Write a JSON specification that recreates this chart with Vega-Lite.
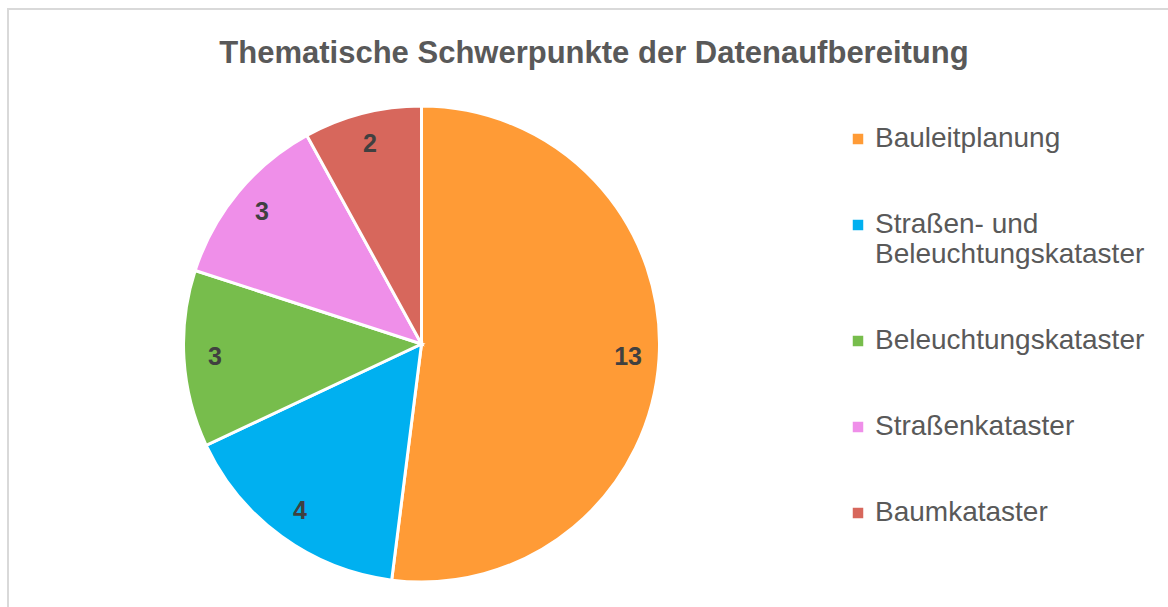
{
  "$schema": "https://vega.github.io/schema/vega-lite/v6.json",
  "width": 1172,
  "height": 612,
  "autosize": "none",
  "padding": {"left": 8, "top": 9, "right": 0, "bottom": 0},
  "background": "white",
  "config": {
    "view": {"stroke": "#d9d9d9", "strokeWidth": 2},
    "font": "Liberation Sans"
  },
  "title": {
    "text": "Thematische Schwerpunkte der Datenaufbereitung",
    "anchor": "middle",
    "font": "Liberation Sans",
    "fontSize": 31,
    "fontWeight": "bold",
    "color": "#595959",
    "offset": -61
  },
  "data": {
    "values": [
      {"thema": "Bauleitplanung", "anzahl": 13, "ord": 1},
      {"thema": "Straßen- und Beleuchtungskataster", "anzahl": 4, "ord": 2},
      {"thema": "Beleuchtungskataster", "anzahl": 3, "ord": 3},
      {"thema": "Straßenkataster", "anzahl": 3, "ord": 4},
      {"thema": "Baumkataster", "anzahl": 2, "ord": 5}
    ]
  },
  "encoding": {
    "theta": {"field": "anzahl", "type": "quantitative", "stack": true},
    "order": {"field": "ord", "type": "quantitative"},
    "x": {"datum": 0.35282, "type": "quantitative", "scale": {"domain": [0, 1]}, "axis": null},
    "y": {"datum": 0.54739, "type": "quantitative", "scale": {"domain": [0, 1], "reverse": true}, "axis": null}
  },
  "layer": [
    {
      "mark": {"type": "arc", "outerRadius": 238, "stroke": "white", "strokeWidth": 3},
      "encoding": {
        "color": {
          "field": "thema",
          "type": "nominal",
          "sort": ["Bauleitplanung", "Straßen- und Beleuchtungskataster", "Beleuchtungskataster", "Straßenkataster", "Baumkataster"],
          "scale": {
            "domain": ["Bauleitplanung", "Straßen- und Beleuchtungskataster", "Beleuchtungskataster", "Straßenkataster", "Baumkataster"],
            "range": ["#FF9B36", "#00B0F0", "#77BD4C", "#EF8FE9", "#D7675C"]
          },
          "legend": {
            "orient": "none",
            "legendX": 836,
            "legendY": 116,
            "title": null,
            "symbolType": "square",
            "symbolSize": 110,
            "symbolStrokeWidth": 0,
            "labelFont": "Liberation Sans",
            "labelFontSize": 28,
            "labelColor": "#595959",
            "labelLimit": 400,
            "labelOffset": 3,
            "rowPadding": 58,
            "labelExpr": "datum.label == 'Straßen- und Beleuchtungskataster' ? ['Straßen- und', 'Beleuchtungskataster'] : datum.label"
          }
        }
      }
    },
    {
      "mark": {"type": "text", "radius": 207, "fontSize": 25, "fontWeight": "bold", "fill": "#404040", "font": "Liberation Sans"},
      "encoding": {
        "text": {"field": "anzahl", "type": "quantitative"}
      }
    }
  ]
}
